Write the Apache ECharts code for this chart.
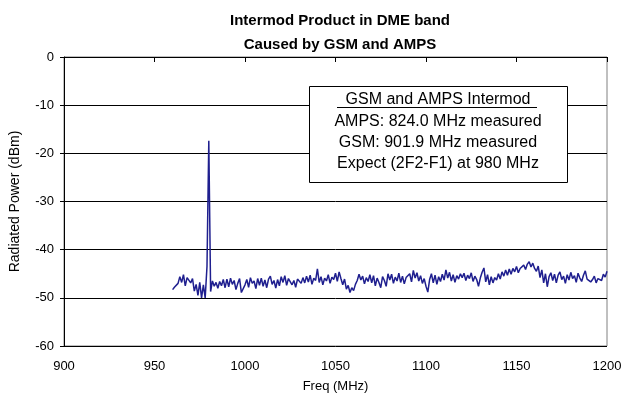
<!DOCTYPE html>
<html>
<head>
<meta charset="utf-8">
<script src="https://cdn.jsdelivr.net/npm/echarts@6/dist/echarts.min.js"></script>
<style>html,body{margin:0;padding:0;background:#fff}#c{width:631px;height:402px}</style>
</head>
<body>
<div id="c"></div>
<script>
// Data
var titleLines = ['Intermod Product in DME band', 'Caused by GSM and AMPS'];
var xName = 'Freq (MHz)';
var yName = 'Radiated Power (dBm)';
var boxLines = ['GSM and AMPS Intermod', 'AMPS: 824.0 MHz measured', 'GSM: 901.9 MHz measured', 'Expect (2F2-F1) at 980 MHz'];
var freqStart = 960;  // MHz, first sample
var freqStep = 1;     // MHz between samples
var power = [
  -48.3, -47.8, -47.5, -47.0, -45.6, -46.8, -45.2, -47.5, -45.8, -45.4,
  -46.9, -46.0, -48.6, -47.2, -49.5, -46.8, -50.0, -47.3, -50.0, -43.5,
  -17.4, -48.7, -46.5, -47.6, -46.8, -48.0, -46.6, -47.5, -46.2, -47.9,
  -46.1, -47.7, -45.9, -47.2, -46.4, -48.3, -47.0, -46.0, -48.9, -49.0,
  -47.3, -46.2, -47.8, -45.8, -47.0, -46.5, -48.1, -46.0, -47.4, -45.9,
  -47.6, -46.3, -47.9, -46.1, -45.5, -47.2, -46.4, -48.0, -46.2, -47.5,
  -45.6, -46.8, -45.4, -47.4, -46.0, -45.7, -47.3, -46.4, -47.8, -46.1,
  -46.2, -47.0, -45.8, -46.9, -45.5, -46.7, -45.3, -47.2, -45.9, -46.4,
  -44.0, -46.8, -45.6, -47.3, -45.9, -46.5, -45.2, -47.0, -45.7, -46.2,
  -44.9, -46.6, -44.6, -46.0, -47.3, -46.1, -48.2, -47.4, -48.9, -47.9,
  -48.5, -47.2, -46.4, -45.1, -46.3, -45.5, -47.1, -45.8, -46.6, -45.2,
  -46.9, -45.4, -47.5, -45.9, -46.8, -47.9, -45.6, -46.4, -47.6, -45.0,
  -46.3, -45.1, -47.0, -45.7, -46.5, -44.9, -46.8, -45.5, -47.1, -45.8,
  -46.2, -45.0, -46.7, -44.3, -45.9, -44.8, -46.5, -45.4, -47.0, -46.0,
  -47.6, -48.8, -46.2, -45.0, -46.9, -45.3, -47.2, -45.6, -46.6, -45.1,
  -46.3, -44.2, -45.9, -44.7, -46.5, -45.2, -46.8, -45.4, -46.1, -45.0,
  -45.8, -44.9, -46.4, -45.3, -46.0, -44.8, -46.6, -45.5, -46.2, -47.6,
  -45.9, -44.7, -43.8, -46.7, -45.2, -47.3, -45.6, -46.9, -45.8, -46.3,
  -45.0, -46.1, -44.6, -45.5, -44.2, -45.3, -44.0, -45.1, -43.9, -44.6,
  -43.5, -44.8, -43.9, -44.3, -43.2, -44.1, -43.0, -42.5, -43.6, -42.8,
  -43.9, -44.5, -43.4, -45.8, -44.2, -46.9, -45.0, -47.7, -45.6, -44.8,
  -46.4, -45.1, -46.9, -45.3, -44.6, -46.2, -45.5, -47.0, -45.2, -46.3,
  -44.7, -46.0, -45.4, -46.8, -44.9, -45.9, -46.6, -45.3, -44.4, -46.1,
  -45.8, -46.7, -46.2, -45.5, -46.9, -46.0, -45.6, -46.4, -45.1, -45.7,
  -44.5
];
var xMin = 900, xMax = 1200, xInterval = 50;
var yMin = -60, yMax = 0, yInterval = 10;

var seriesData = power.map(function (v, i) { return [freqStart + i * freqStep, v]; });

var FONT = 'Liberation Sans, Arial, sans-serif';
var chart = echarts.init(document.getElementById('c'), null, { renderer: 'canvas' });

var gridL = 64, gridR = 24, gridT = 57, gridB = 56;
var boxX = 309, boxY = 86, boxW = 258, boxH = 96;
var boxCx = boxX + boxW / 2;

chart.setOption({
  animation: false,
  backgroundColor: '#fff',
  title: {
    text: titleLines.join('\n'),
    left: 335,
    top: 4,
    textAlign: 'center',
    textStyle: { fontFamily: FONT, fontSize: 15, fontWeight: 'bold', color: '#000', lineHeight: 24 }
  },
  grid: {
    left: gridL, right: gridR, top: gridT, bottom: gridB,
    show: true, borderColor: '#808080', borderWidth: 1, backgroundColor: 'transparent'
  },
  xAxis: {
    type: 'value', min: xMin, max: xMax, interval: xInterval,
    name: xName, nameLocation: 'middle', nameGap: 34,
    nameTextStyle: { fontFamily: FONT, fontSize: 13, color: '#000' },
    axisLine: { show: true, lineStyle: { color: '#000', width: 1 } },
    axisTick: { show: true, inside: false, length: 5, lineStyle: { color: '#000' } },
    axisLabel: { fontFamily: FONT, fontSize: 13, color: '#000', margin: 14,
      formatter: function (v) { return String(v); } },
    splitLine: { show: false }
  },
  yAxis: {
    type: 'value', min: yMin, max: yMax, interval: yInterval,
    name: yName, nameLocation: 'middle', nameGap: 42,
    nameTextStyle: { fontFamily: FONT, fontSize: 14, color: '#000' },
    axisLine: { show: true, lineStyle: { color: '#000', width: 1 } },
    axisTick: { show: true, inside: false, length: 4, lineStyle: { color: '#000' } },
    axisLabel: { fontFamily: FONT, fontSize: 13, color: '#000', margin: 10 },
    splitLine: { show: true, lineStyle: { color: '#000', width: 1 } }
  },
  series: [{
    type: 'line',
    data: seriesData,
    showSymbol: false,
    symbol: 'none',
    lineStyle: { color: '#1f1f8f', width: 1.5 },
    z: 3
  }],
  graphic: [
    { type: 'rect', z: 100, shape: { x: boxX + 0.5, y: boxY + 0.5, width: boxW, height: boxH },
      style: { fill: '#fff', stroke: '#000', lineWidth: 1 } },
    { type: 'text', z: 101, x: boxCx, y: 100, style: { text: boxLines[0], font: '16px ' + FONT, fill: '#000', textAlign: 'center', textVerticalAlign: 'middle' } },
    { type: 'line', z: 101, shape: { x1: 337, y1: 107.5, x2: 537, y2: 107.5 }, style: { stroke: '#000', lineWidth: 1 } },
    { type: 'text', z: 101, x: boxCx, y: 122, style: { text: boxLines[1], font: '16px ' + FONT, fill: '#000', textAlign: 'center', textVerticalAlign: 'middle' } },
    { type: 'text', z: 101, x: boxCx, y: 143, style: { text: boxLines[2], font: '16px ' + FONT, fill: '#000', textAlign: 'center', textVerticalAlign: 'middle' } },
    { type: 'text', z: 101, x: boxCx, y: 164, style: { text: boxLines[3], font: '16px ' + FONT, fill: '#000', textAlign: 'center', textVerticalAlign: 'middle' } }
  ]
});
</script>
</body>
</html>
